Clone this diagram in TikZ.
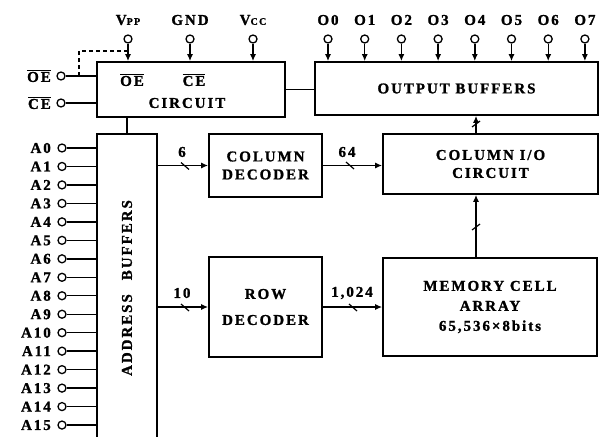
\documentclass[tikz,border=0pt]{standalone}
\usepackage{fontspec}
\setmainfont{Liberation Serif}[LetterSpace=13,BoldFeatures={FakeBold=1.2}]
\usetikzlibrary{arrows.meta}
\begin{document}
\begin{tikzpicture}[x=1pt,y=-1pt,
  box/.style={draw,line width=1.6pt,inner sep=0pt,align=center,font=\fontsize{15}{18}\selectfont\bfseries},
  pinc/.style={circle,draw,fill=white,line width=1.3pt,minimum size=8pt,inner sep=0pt},
  wire/.style={line width=1.4pt},
  arr/.style={wire,-{Latex[length=7pt,width=6pt]}},
  txt/.style={font=\fontsize{15}{18}\selectfont\bfseries,inner sep=0pt},
  tickm/.style={line width=1.2pt}]
\useasboundingbox (0,0) rectangle (601,436);
% boxes
\node[box,minimum width=188pt,minimum height=55pt] (ctl) at (191,89.5) {};
\node[box,minimum width=283pt,minimum height=53pt] (out) at (456.5,88.5) {OUTPUT BUFFERS};
\node[box,minimum width=113pt,minimum height=63pt] (coldec) at (265.5,165.5) {COLUMN\\DECODER};
\node[box,minimum width=215pt,minimum height=60pt] (colio) at (490.5,164) {COLUMN I/O\\CIRCUIT};
\node[box,minimum width=113pt,minimum height=100pt] (rowdec) at (265.5,307) {ROW\\[8pt]DECODER};
\node[box,minimum width=214pt,minimum height=98pt] (mem) at (490,307) {MEMORY CELL\\[2pt]ARRAY\\[2pt]65,536×8bits};
\node[box,minimum width=60pt,minimum height=308pt] (addr) at (127,288) {};
\node[txt,rotate=90] (addrtxt) at (addr.center) {ADDRESS\hspace{14pt}BUFFERS};
% texts inside control circuit
\node[txt] (oein) at (132,80) {$\overline{\mbox{OE}}$};
\node[txt] (cein) at (194,80) {$\overline{\mbox{CE}}$};
\node[txt] (circ) at (187,103) {CIRCUIT};
% top pins
\foreach \n/\x/\t in {vpp/128/{V\fontsize{10}{10}\selectfont PP},gnd/190/GND,vcc/253/{V\fontsize{10}{10}\selectfont CC}}{
  \node[pinc] (\n) at (\x,39) {};
  \node[txt] (\n l) at (\x,20) {\t};
  \draw[arr] (\n) -- (\n |- ctl.north);
}
\foreach \i in {0,...,7}{
  \pgfmathsetmacro\xx{328+\i*36.7}
  \node[pinc] (o\i) at (\xx,39) {};
  \node[txt] (o\i l) at (\xx,20) {O\i};
  \draw[arr] (o\i) -- (o\i |- out.north);
}
% OE / CE pins
\node[pinc] (oe) at (61,76) {};
\node[txt,anchor=east] (oel) at (51,76) {$\overline{\mbox{OE}}$};
\node[pinc] (ce) at (61,103) {};
\node[txt,anchor=east] (cel) at (51,103) {$\overline{\mbox{CE}}$};
\draw[wire] (oe) -- (oe -| ctl.west);
\draw[wire] (ce) -- (ce -| ctl.west);
\coordinate (dA) at (79,76);
\coordinate (dB) at (128,51);
\draw[wire,dash pattern=on 4pt off 3pt] (dA) |- (dB);
% address pins
\foreach \i in {0,...,15}{
  \pgfmathsetmacro\yy{148+\i*18.47}
  \node[pinc] (a\i) at (62,\yy) {};
  \node[txt,anchor=east] (a\i l) at (51,\yy) {A\i};
  \draw[wire] (a\i) -- (a\i -| addr.west);
}
% connections
\draw[wire] (ctl.east) -- (ctl.east -| out.west);
\draw[wire] (addr.north) -- (addr.north |- ctl.south);
\draw[arr] (coldec.west -| addr.east) -- (coldec.west);
\draw[arr] (rowdec.west -| addr.east) -- (rowdec.west);
\draw[arr] (coldec.east) -- (coldec.east -| colio.west);
\draw[arr] (rowdec.east) -- (rowdec.east -| mem.west);
\coordinate (vx) at (476,0);
\draw[arr] (vx |- mem.north) -- (vx |- colio.south);
\draw[arr] (vx |- colio.north) -- (vx |- out.south);
% bus ticks
\foreach \x/\y in {185/165.5,350/165,185/307,353/307}{
  \draw[tickm] (\x-4,\y-3) -- (\x+4,\y+4);
}
\foreach \y in {227,124}{
  \draw[tickm] (472,\y+3) -- (480,\y-3);
}
% bus labels
\node[txt] (l6) at (182,152) {6};
\node[txt] (l64) at (347,152) {64};
\node[txt] (l10) at (182,293) {10};
\node[txt] (l1024) at (352,293) {1,024};
\end{tikzpicture}
\end{document}
